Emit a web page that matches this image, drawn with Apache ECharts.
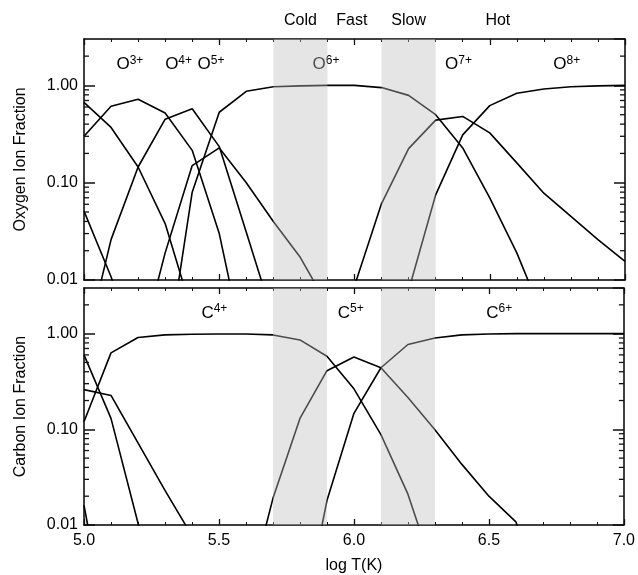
<!DOCTYPE html>
<html>
<head>
<meta charset="utf-8">
<script src="https://cdn.jsdelivr.net/npm/echarts@6/dist/echarts.min.js"></script>
<style>
  html, body { margin: 0; padding: 0; background: #fff; }
  .main { width: 638px; height: 575px; }
</style>
</head>
<body>
<div class="main"></div>
<script>
// log T grid (x values)
const logT = [5.0, 5.1, 5.2, 5.3, 5.4, 5.5, 5.6, 5.7, 5.8, 5.9, 6.0,
              6.1, 6.2, 6.3, 6.4, 6.5, 6.6, 6.7, 6.8, 6.9, 7.0];

// oxygen ion fractions (values below 0.01 only give the line its slope out of the frame)
const o1 = [0.051, 0.0108, 0.0017, null, null, null, null, null, null, null, null,
            null, null, null, null, null, null, null, null, null, null];
const o2 = [0.67, 0.37, 0.145, 0.038, 0.0046, null, null, null, null, null, null,
            null, null, null, null, null, null, null, null, null, null];
const o3 = [0.30, 0.61, 0.72, 0.52, 0.215, 0.030, 0.0015, null, null, null, null,
            null, null, null, null, null, null, null, null, null, null];
const o4 = [0.0018, 0.026, 0.145, 0.45, 0.575, 0.235, 0.031, 0.004, null, null, null,
            null, null, null, null, null, null, null, null, null, null];
const o5 = [null, null, 0.0016, 0.019, 0.15, 0.228, 0.10, 0.040, 0.017, 0.0055, null,
            null, null, null, null, null, null, null, null, null, null];
const o6 = [null, null, null, 0.0012, 0.08, 0.53, 0.87, 0.97, 0.99, 1.0, 1.0,
            0.95, 0.79, 0.50, 0.228, 0.07, 0.019, 0.004, null, null, null];
const o7 = [null, null, null, null, null, null, null, null, null, 0.0006, 0.0087,
            0.061, 0.224, 0.44, 0.48, 0.325, 0.16, 0.078, 0.045, 0.026, 0.0155];
const o8 = [null, null, null, null, null, null, null, null, null, null, null,
            0.0005, 0.0078, 0.075, 0.31, 0.62, 0.83, 0.92, 0.97, 0.99, 1.0];

// carbon ion fractions
const c1 = [0.016, 0.0005, null, null, null, null, null, null, null, null, null,
            null, null, null, null, null, null, null, null, null, null];
const c2 = [0.26, 0.226, 0.072, 0.023, 0.0077, 0.001, null, null, null, null, null,
            null, null, null, null, null, null, null, null, null, null];
const c3 = [0.60, 0.13, 0.0105, 0.0008, null, null, null, null, null, null, null,
            null, null, null, null, null, null, null, null, null, null];
const c4 = [0.12, 0.63, 0.91, 0.97, 0.985, 0.99, 0.99, 0.97, 0.86, 0.58, 0.265,
            0.088, 0.021, 0.003, null, null, null, null, null, null, null];
const c5 = [null, null, null, null, null, null, 0.0015, 0.019, 0.13, 0.41, 0.57,
            0.44, 0.215, 0.099, 0.043, 0.020, 0.0108, 0.0017, null, null, null];
const c6 = [null, null, null, null, null, null, null, null, 0.0007, 0.018, 0.147,
            0.44, 0.77, 0.90, 0.97, 0.99, 1.0, 1.0, 1.0, 1.0, 1.0];

// shaded wind bands and the names written above the top panel
const bands = [[5.7, 5.9], [6.1, 6.3]];
const regionNames = ['Cold', 'Fast', 'Slow', 'Hot'];
const regionAt = [5.8, 5.99, 6.2, 6.53];

// ion labels: element, charge, x, y
const oxyLabels = [['O', '3+', 5.12, 1.65], ['O', '4+', 5.3, 1.65], ['O', '5+', 5.42, 1.65],
                   ['O', '6+', 5.845, 1.65], ['O', '7+', 6.335, 1.65], ['O', '8+', 6.735, 1.65]];
const carbLabels = [['C', '4+', 5.435, 1.65], ['C', '5+', 5.94, 1.65], ['C', '6+', 6.49, 1.65]];

// minor log ticks
const yMinor = [0.02, 0.03, 0.04, 0.05, 0.06, 0.07, 0.08, 0.09,
                0.2, 0.3, 0.4, 0.5, 0.6, 0.7, 0.8, 0.9, 2];

const FONT = 'Liberation Sans, Arial, Helvetica, sans-serif';
const TICK = '#111';

/* global echarts: true */
let myChart = echarts.init(document.querySelector('.main'));

function decadeLabel(v) {
  let l = Math.log10(v);
  return Math.abs(l - Math.round(l)) < 1e-6 ? v.toFixed(2) : '';
}

function xAx(gridIndex, pos, labels, name) {
  return {
    type: 'value', gridIndex: gridIndex, position: pos,
    min: 5, max: 7, interval: 0.5,
    axisLine: { show: true, onZero: false, lineStyle: { color: '#000', width: 1.5 } },
    axisTick: { show: true, inside: true, length: 6, lineStyle: { color: TICK, width: 1.3 } },
    minorTick: { show: true, splitNumber: 5, length: 3, lineStyle: { color: TICK, width: 1 } },
    splitLine: { show: false },
    axisLabel: { show: labels, color: '#000', fontSize: 16, fontFamily: FONT, margin: 8,
                 formatter: v => v.toFixed(1) },
    name: name || '', nameLocation: 'middle', nameGap: 33,
    nameTextStyle: { color: '#000', fontSize: 16, fontFamily: FONT }
  };
}

function yAx(gridIndex, pos, labels, name) {
  return {
    type: 'log', logBase: 10, gridIndex: gridIndex, position: pos,
    min: 0.01, max: 3,
    axisLine: { show: true, onZero: false, lineStyle: { color: '#000', width: 1.5 } },
    axisTick: { show: true, inside: true, length: 11, lineStyle: { color: TICK, width: 1.5 } },
    splitLine: { show: false },
    axisLabel: { show: labels, color: '#000', fontSize: 16, fontFamily: FONT, margin: 6,
                 showMaxLabel: false, formatter: decadeLabel },
    name: name || '', nameLocation: 'middle', nameGap: 55, nameRotate: 90,
    nameTextStyle: { color: '#000', fontSize: 16, fontFamily: FONT }
  };
}

function lineSeries(vals, grid) {
  return {
    type: 'line', xAxisIndex: grid * 2, yAxisIndex: grid * 2,
    data: logT.map((x, i) => [x, vals[i]]),
    showSymbol: false, connectNulls: false,
    lineStyle: { color: '#000', width: 1.6 },
    z: 2
  };
}

function bandSeries(grid) {
  return {
    type: 'custom', xAxisIndex: grid * 2, yAxisIndex: grid * 2, z: 6,
    data: bands.map(b => [b[0], b[1], 1]),
    encode: { x: [0, 1], y: 2 },
    renderItem: (params, api) => {
      let cs = params.coordSys;
      let x0 = api.coord([api.value(0), 1])[0];
      let x1 = api.coord([api.value(1), 1])[0];
      return { type: 'rect', shape: { x: x0, y: cs.y, width: x1 - x0, height: cs.height },
               style: { fill: 'rgba(190,190,190,0.4)' } };
    }
  };
}

// minor log ticks on both sides of a panel, drawn through the panel's y scale
function minorTickSeries(grid, side) {
  return {
    type: 'custom', xAxisIndex: grid * 2, yAxisIndex: grid * 2, z: 7,
    data: yMinor.map(v => [5, v]),
    encode: { x: 0, y: 1 },
    renderItem: (params, api) => {
      let cs = params.coordSys;
      let y = api.coord([5, api.value(1)])[1];
      let x0 = side === 'left' ? cs.x : cs.x + cs.width - 5;
      return { type: 'line', shape: { x1: x0, y1: y, x2: x0 + 5, y2: y },
               style: { stroke: TICK, lineWidth: 1.3 } };
    }
  };
}

function labelSeries(list, grid) {
  return {
    type: 'scatter', xAxisIndex: grid * 2, yAxisIndex: grid * 2, z: 3,
    symbolSize: 0, itemStyle: { opacity: 1 },
    data: list.map(l => ({ value: [l[2], l[3]], el: l[0], q: l[1] })),
    label: {
      show: true, position: 'right', distance: 0, color: '#000', textBorderWidth: 0,
      formatter: p => '{b|' + p.data.el + '}{s|' + p.data.q + '}',
      rich: {
        b: { fontSize: 17, fontFamily: FONT, color: '#000' },
        s: { fontSize: 12, fontFamily: FONT, color: '#000', padding: [0, 0, 8, 0] }
      }
    }
  };
}

let option = {
  animation: false,
  grid: [
    { left: 84, right: 13, top: 39, height: 241 },
    { left: 84, right: 13, top: 288, height: 241 }
  ],
  xAxis: [
    xAx(0, 'bottom', false), xAx(0, 'top', false),
    xAx(1, 'bottom', true, 'log T(K)'), xAx(1, 'top', false)
  ],
  yAxis: [
    yAx(0, 'left', true, 'Oxygen Ion Fraction'), yAx(0, 'right', false),
    yAx(1, 'left', true, 'Carbon Ion Fraction'), yAx(1, 'right', false)
  ],
  series: [
    lineSeries(o1, 0), lineSeries(o2, 0), lineSeries(o3, 0), lineSeries(o4, 0),
    lineSeries(o5, 0), lineSeries(o6, 0), lineSeries(o7, 0), lineSeries(o8, 0),
    lineSeries(c1, 1), lineSeries(c2, 1), lineSeries(c3, 1),
    lineSeries(c4, 1), lineSeries(c5, 1), lineSeries(c6, 1),
    labelSeries(oxyLabels, 0), labelSeries(carbLabels, 1),
    bandSeries(0), bandSeries(1),
    minorTickSeries(0, 'left'), minorTickSeries(0, 'right'),
    minorTickSeries(1, 'left'), minorTickSeries(1, 'right')
  ]
};

myChart.setOption(option);

// names of the wind regimes above the top panel, placed through the top x axis
myChart.setOption({
  graphic: regionNames.map((t, i) => ({
    type: 'text',
    x: myChart.convertToPixel({ xAxisIndex: 0 }, regionAt[i]),
    y: 21,
    style: { text: t, fontSize: 16, fontFamily: FONT, fill: '#000',
             align: 'center', verticalAlign: 'middle' }
  }))
});
</script>
</body>
</html>
